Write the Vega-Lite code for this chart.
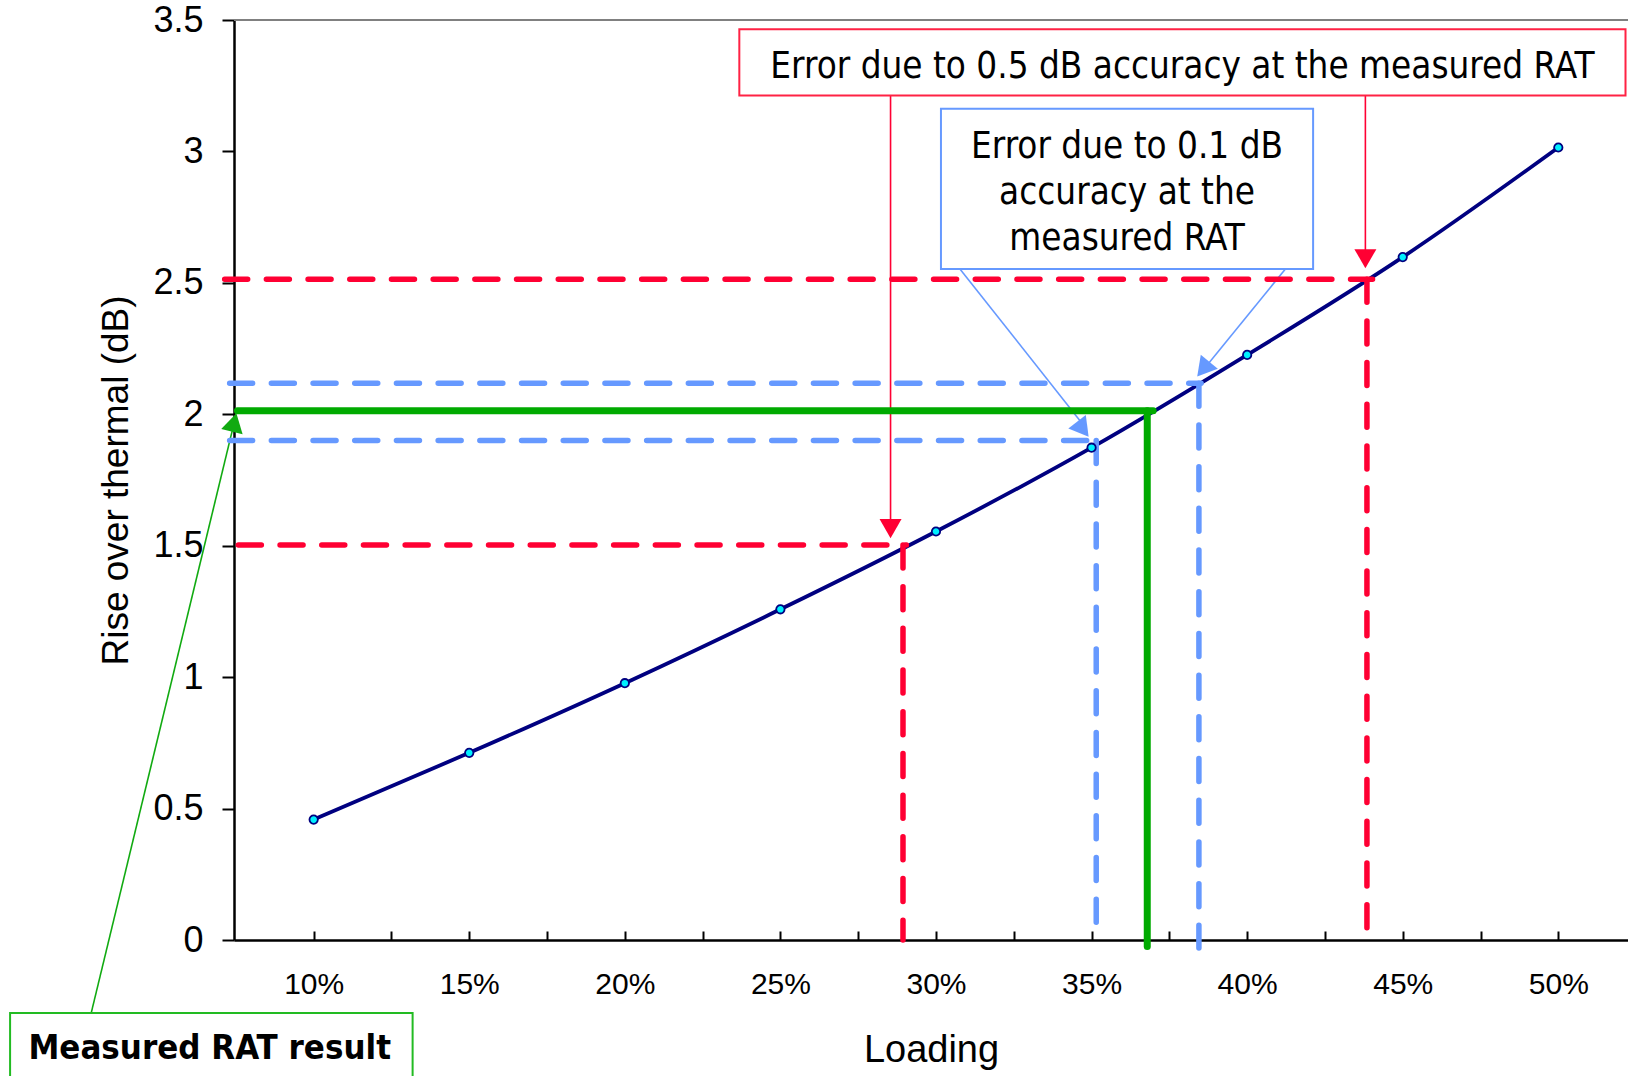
{
  "$schema": "https://vega.github.io/schema/vega-lite/v6.json",
  "width": 1394,
  "height": 920,
  "autosize": {"type": "none"},
  "padding": {"left": 234, "top": 20, "right": 0, "bottom": 136},
  "background": "white",
  "config": {"view": {"stroke": null}},
  "datasets": {
    "curve": [
      {"x": 0.10, "y": 0.458},
      {"x": 0.15, "y": 0.712},
      {"x": 0.20, "y": 0.977},
      {"x": 0.25, "y": 1.258},
      {"x": 0.30, "y": 1.554},
      {"x": 0.35, "y": 1.873},
      {"x": 0.40, "y": 2.226},
      {"x": 0.45, "y": 2.598},
      {"x": 0.50, "y": 3.015}
    ],
    "frame": [{"x": 0.0744, "x2": 0.5224, "y": 3.5, "y2": 3.5}],
    "dashed": [
      {"g": "red", "x": 0.0714, "x2": 0.4403, "y": 2.514, "y2": 2.514},
      {"g": "red", "x": 0.4385, "x2": 0.4385, "y": 2.514, "y2": 0},
      {"g": "red", "x": 0.0758, "x2": 0.2905, "y": 1.503, "y2": 1.503},
      {"g": "red", "x": 0.2894, "x2": 0.2894, "y": 1.503, "y2": 0},
      {"g": "blue", "x": 0.0730, "x2": 0.3852, "y": 2.118, "y2": 2.118},
      {"g": "blue", "x": 0.3845, "x2": 0.3845, "y": 2.118, "y2": -0.03},
      {"g": "blue", "x": 0.0730, "x2": 0.3523, "y": 1.900, "y2": 1.900},
      {"g": "blue", "x": 0.3515, "x2": 0.3515, "y": 1.900, "y2": 0}
    ],
    "solid": [
      {"g": "green", "x": 0.0755, "x2": 0.3698, "y": 2.013, "y2": 2.013},
      {"g": "green", "x": 0.3679, "x2": 0.3679, "y": 2.013, "y2": -0.025}
    ],
    "pointers": [
      {"g": "red", "x": 0.2854, "x2": 0.2854, "y": 3.213, "y2": 1.56},
      {"g": "red", "x": 0.4380, "x2": 0.4380, "y": 3.213, "y2": 2.59},
      {"g": "blue", "x": 0.3077, "x2": 0.3480, "y": 2.553, "y2": 1.95},
      {"g": "blue", "x": 0.4123, "x2": 0.3860, "y": 2.553, "y2": 2.17},
      {"g": "green", "x": 0.0285, "x2": 0.0745, "y": -0.278, "y2": 1.97}
    ],
    "heads": [
      {"g": "red", "x": 0.2854, "y": 1.565, "angle": 180},
      {"g": "red", "x": 0.4380, "y": 2.592, "angle": 180},
      {"g": "blue", "x": 0.3472, "y": 1.943, "angle": 142.6},
      {"g": "blue", "x": 0.3859, "y": 2.172, "angle": 219.3},
      {"g": "green", "x": 0.07445, "y": 1.969, "angle": 13.6}
    ],
    "boxes": [
      {"g": "red", "x": 0.2368, "x2": 0.5216, "y": 3.465, "y2": 3.213},
      {"g": "blue", "x": 0.3016, "x2": 0.4212, "y": 3.162, "y2": 2.553},
      {"g": "green", "x": 0.00244, "x2": 0.1318, "y": -0.278, "y2": -0.62}
    ],
    "notes": [
      {"text": "Error due to 0.5 dB accuracy at the measured RAT", "x": 0.3792, "y": 3.279},
      {"text": "Error due to 0.1 dB", "x": 0.3614, "y": 2.974},
      {"text": "accuracy at the", "x": 0.3614, "y": 2.799},
      {"text": "measured RAT", "x": 0.3614, "y": 2.626}
    ],
    "boldnotes": [
      {"text": "Measured RAT result", "x": 0.0666, "y": -0.454}
    ]
  },
  "encoding": {
    "x": {
      "field": "x",
      "type": "quantitative",
      "scale": {"domain": [0.0744, 0.5224], "nice": false, "zero": false},
      "axis": {
        "title": "Loading",
        "values": [0.1, 0.125, 0.15, 0.175, 0.2, 0.225, 0.25, 0.275, 0.3, 0.325, 0.35, 0.375, 0.4, 0.425, 0.45, 0.475, 0.5],
        "labelExpr": "round(datum.value*1000) % 50 === 0 ? format(datum.value, '.0%') : ''",
        "labelOverlap": false,
        "labelFlush": false,
        "labelBound": false,
        "grid": false,
        "domainColor": "black",
        "domainWidth": 2.5,
        "tickColor": "black",
        "tickWidth": 2,
        "tickSize": -9,
        "labelFont": "Liberation Sans",
        "labelFontSize": 30,
        "labelColor": "black",
        "labelPadding": 38,
        "titleFont": "Liberation Sans",
        "titleFontSize": 38,
        "titleFontWeight": "normal",
        "titleColor": "black",
        "titlePadding": 32
      }
    },
    "y": {
      "field": "y",
      "type": "quantitative",
      "scale": {"domain": [0, 3.5], "nice": false, "zero": false},
      "axis": {
        "title": "Rise over thermal (dB)",
        "values": [0, 0.5, 1, 1.5, 2, 2.5, 3, 3.5],
        "format": ".2~g",
        "grid": false,
        "domainColor": "black",
        "domainWidth": 2.5,
        "tickColor": "black",
        "tickWidth": 2,
        "tickSize": 12,
        "labelFont": "Liberation Sans",
        "labelFontSize": 36,
        "labelColor": "black",
        "labelPadding": 19,
        "titleFont": "Liberation Sans",
        "titleFontSize": 37,
        "titleFontWeight": "normal",
        "titleColor": "black",
        "titlePadding": 17
      }
    }
  },
  "layer": [
    {
      "data": {"name": "frame"},
      "mark": {"type": "rule", "color": "#808080", "strokeWidth": 2},
      "encoding": {"x2": {"field": "x2"}, "y2": {"field": "y2"}}
    },
    {
      "data": {"name": "pointers"},
      "mark": {"type": "rule", "strokeWidth": 1.6},
      "encoding": {
        "x2": {"field": "x2"},
        "y2": {"field": "y2"},
        "color": {"field": "g", "type": "nominal", "scale": {"domain": ["red", "blue", "green"], "range": ["#FF0033", "#6699FF", "#11AA11"]}, "legend": null}
      }
    },
    {
      "data": {"name": "curve"},
      "mark": {"type": "line", "interpolate": "monotone", "color": "#000080", "strokeWidth": 3.8}
    },
    {
      "data": {"name": "dashed"},
      "mark": {"type": "rule", "strokeWidth": 5.5, "strokeDash": [23, 18.7], "strokeCap": "round"},
      "encoding": {
        "x2": {"field": "x2"},
        "y2": {"field": "y2"},
        "color": {"field": "g", "type": "nominal", "legend": null}
      }
    },
    {
      "data": {"name": "solid"},
      "mark": {"type": "rule", "strokeWidth": 7, "strokeCap": "round", "color": "#00AA00"},
      "encoding": {"x2": {"field": "x2"}, "y2": {"field": "y2"}}
    },
    {
      "data": {"name": "curve"},
      "mark": {"type": "point", "shape": "circle", "filled": true, "fill": "#00F0FF", "stroke": "#000080", "strokeWidth": 1.8, "size": 70, "opacity": 1}
    },
    {
      "data": {"name": "heads"},
      "mark": {"type": "point", "shape": "triangle-up", "filled": true, "size": 484, "opacity": 1, "strokeWidth": 0},
      "encoding": {
        "color": {"field": "g", "type": "nominal", "legend": null},
        "angle": {"field": "angle", "type": "quantitative", "scale": null}
      }
    },
    {
      "data": {"name": "boxes"},
      "mark": {"type": "rect", "fill": "white", "strokeWidth": 2},
      "encoding": {
        "x2": {"field": "x2"},
        "y2": {"field": "y2"},
        "stroke": {"field": "g", "type": "nominal", "scale": {"domain": ["red", "blue", "green"], "range": ["#FF2244", "#6699FF", "#22BB22"]}, "legend": null}
      }
    },
    {
      "data": {"name": "notes"},
      "mark": {"type": "text", "font": "DejaVu Sans Condensed, Liberation Sans, sans-serif", "fontSize": 36.5, "align": "center", "baseline": "alphabetic", "color": "black"},
      "encoding": {"text": {"field": "text"}}
    },
    {
      "data": {"name": "boldnotes"},
      "mark": {"type": "text", "font": "DejaVu Sans Condensed, Liberation Sans, sans-serif", "fontSize": 34.5, "fontWeight": "bold", "align": "center", "baseline": "alphabetic", "color": "black"},
      "encoding": {"text": {"field": "text"}}
    }
  ]
}
